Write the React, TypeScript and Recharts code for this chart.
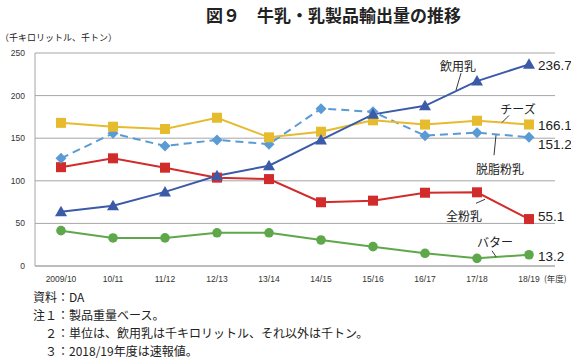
import React from "react";
import { LineChart, Line, XAxis, YAxis, CartesianGrid, LabelList } from "recharts";

const years = ["2009/10", "10/11", "11/12", "12/13", "13/14", "14/15", "15/16", "16/17", "17/18", "18/19"];
const drinkingMilk = [63.7, 70.8, 87, 106, 117.7, 148, 178, 188, 217, 236.7];
const cheese = [168, 163.5, 160.8, 174, 151, 157.6, 171, 166, 170.5, 166.1];
const skimMilkPowder = [126.4, 155.7, 140.8, 148, 143, 184.7, 181, 153, 156.5, 151.2];
const wholeMilkPowder = [116, 126.4, 115.4, 103.7, 102, 74.8, 76.7, 86, 86.5, 55.1];
const butter = [41.5, 32.9, 33, 39, 39, 30.5, 22.7, 14.9, 9, 13.2];
const yTicks = [0, 50, 100, 150, 200, 250];

const data = years.map((year, i) => ({
  year,
  drinking: drinkingMilk[i],
  cheese: cheese[i],
  skim: skimMilkPowder[i],
  whole: wholeMilkPowder[i],
  butter: butter[i],
}));

const JP = '"Noto Sans CJK JP", "Noto Sans", sans-serif';
const NUM = '"Liberation Sans", Arial, sans-serif';

const C = {
  drinking: "#3b5ba8",
  cheese: "#e6bb2e",
  skim: "#5b9bd5",
  whole: "#d22b2b",
  butter: "#5ea84b",
  grid: "#a6a6a6",
};

const Triangle = (p: any) => (
  <path d={`M${p.cx},${p.cy - 6}L${p.cx + 6},${p.cy + 4.5}L${p.cx - 6},${p.cy + 4.5}Z`} fill={C.drinking} />
);
const Square = (color: string) => (p: any) => (
  <rect x={p.cx - 5} y={p.cy - 5} width={10} height={10} fill={color} />
);
const Diamond = (p: any) => (
  <path d={`M${p.cx},${p.cy - 5.5}L${p.cx + 5.5},${p.cy}L${p.cx},${p.cy + 5.5}L${p.cx - 5.5},${p.cy}Z`} fill={C.skim} />
);
const Circle = (p: any) => <circle cx={p.cx} cy={p.cy} r={4.8} fill={C.butter} />;

// last-point value label (dy nudges it off its neighbours)
const endValue = (dy: number) => (p: any) => {
  if (p.index !== years.length - 1) return null;
  return (
    <text x={p.x + 9} y={p.y + 5 + dy} fontSize={13.5} fontFamily={NUM} fill="#222">
      {p.value}
    </text>
  );
};

// series name with a short leader line, placed relative to one point
const nameTag = (name: string, idx: number, tx: number, ty: number, l: number[]) => (p: any) => {
  if (p.index !== idx) return null;
  return (
    <g>
      <line x1={p.x + l[0]} y1={p.y + l[1]} x2={p.x + l[2]} y2={p.y + l[3]} stroke="#222" strokeWidth={0.9} />
      <text x={p.x + tx} y={p.y + ty} fontSize={12} fontFamily={JP} fill="#222" textAnchor="middle" dominantBaseline="central">
        {name}
      </text>
    </g>
  );
};

export default function App() {
  return (
    <div style={{ position: "absolute", left: 0, top: 0, width: 571, height: 358, background: "#fff", fontFamily: JP }}>
      <div style={{ position: "absolute", left: 0, width: 571, top: 2, textAlign: "center", fontSize: 17, fontWeight: 700, color: "#222", paddingLeft: 48 }}>
        図９　牛乳・乳製品輸出量の推移
      </div>
      <div style={{ position: "absolute", left: 0, top: 31, fontSize: 9, color: "#222" }}>（千キロリットル、千トン）</div>
      <LineChart width={571} height={290} data={data} margin={{ top: 53, right: 16, bottom: 0, left: 0 }} style={{ position: "absolute", left: 0, top: 0 }}>
        <CartesianGrid vertical={false} stroke={C.grid} />
        <XAxis
          dataKey="year"
          height={24}
          padding={{ left: 26, right: 26 }}
          axisLine={{ stroke: C.grid }}
          tickLine={false}
          tick={{ fontSize: 8.5, fill: "#333", fontFamily: NUM }}
          tickMargin={4}
          interval={0}
        />
        <YAxis
          domain={[0, 250]}
          ticks={yTicks}
          width={35}
          axisLine={{ stroke: C.grid }}
          tickLine={false}
          tickSize={0}
          tickMargin={10}
          tick={{ fontSize: 8.5, fill: "#333", fontFamily: NUM }}
        />
        <Line dataKey="butter" stroke={C.butter} strokeWidth={2} dot={Circle} isAnimationActive={false}>
          <LabelList dataKey="butter" content={endValue(1)} />
          <LabelList dataKey="butter" content={nameTag("バター", 9, -34, -13, [-37, -4, -33, 2])} />
        </Line>
        <Line dataKey="whole" stroke={C.whole} strokeWidth={2} dot={Square(C.whole)} isAnimationActive={false}>
          <LabelList dataKey="whole" content={endValue(-3)} />
          <LabelList dataKey="whole" content={nameTag("全粉乳", 8, -13, 23, [-1, 11, 8, 7])} />
        </Line>
        <Line dataKey="skim" stroke={C.skim} strokeWidth={2} strokeDasharray="8 5" dot={Diamond} isAnimationActive={false}>
          <LabelList dataKey="skim" content={endValue(7)} />
          <LabelList dataKey="skim" content={nameTag("脱脂粉乳", 9, -29, 31, [-33, -2, -35, 18])} />
        </Line>
        <Line dataKey="cheese" stroke={C.cheese} strokeWidth={2} dot={Square(C.cheese)} isAnimationActive={false}>
          <LabelList dataKey="cheese" content={endValue(1)} />
          <LabelList dataKey="cheese" content={nameTag("チーズ", 9, -11, -16, [-20, -9, -27, -2])} />
        </Line>
        <Line dataKey="drinking" stroke={C.drinking} strokeWidth={2} dot={Triangle} isAnimationActive={false}>
          <LabelList dataKey="drinking" content={endValue(1)} />
          <LabelList dataKey="drinking" content={nameTag("飲用乳", 8, -19, -16, [-16, -8, -21, 9])} />
        </Line>
      </LineChart>
      <div style={{ position: "absolute", left: 544, top: 272, fontSize: 8.5, color: "#333" }}>(年度)</div>
      <div style={{ position: "absolute", left: 33, top: 288, fontSize: 12, lineHeight: "18px", color: "#222" }}>
        <div>資料：DA</div>
        <div>注１：製品重量ベース。</div>
        <div>　２：単位は、飲用乳は千キロリットル、それ以外は千トン。</div>
        <div>　３：2018/19年度は速報値。</div>
      </div>
    </div>
  );
}
